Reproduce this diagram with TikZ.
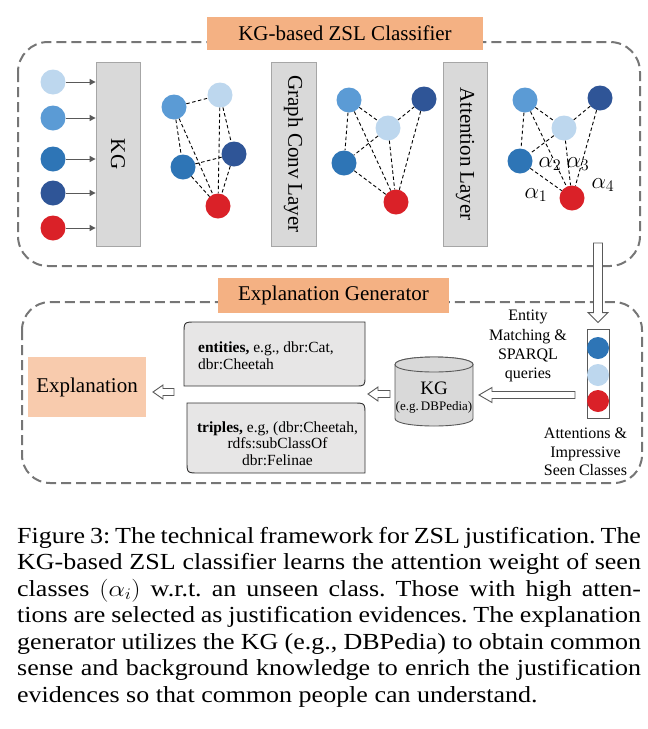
\RequirePackage{fix-cm}
\documentclass[tikz,border=0pt]{standalone}
\usepackage{fontspec}
\setmainfont{Liberation Serif}
\usepackage{graphicx}
\usetikzlibrary{arrows.meta,calc}
\definecolor{cLight}{HTML}{BDD7EE}
\definecolor{cMid}{HTML}{5B9BD5}
\definecolor{cBlue}{HTML}{2E75B6}
\definecolor{cDark}{HTML}{2F5597}
\definecolor{cRed}{HTML}{DA2128}
\definecolor{cOrange}{HTML}{F4B183}
\definecolor{cPeach}{HTML}{F8CBAD}
\definecolor{cGray}{HTML}{D9D9D9}
\definecolor{cGrayLine}{HTML}{A6A6A6}
\definecolor{cDash}{HTML}{767676}
\definecolor{cBox}{HTML}{E7E6E6}
\definecolor{cArrow}{HTML}{595959}
\newcommand{\fs}[2]{\fontsize{#1}{#2}\selectfont}
\newcommand{\capline}[1]{\scalebox{1.13}[1]{\makebox[552pt][s]{#1}}}
\frenchspacing
\begin{document}
\begin{tikzpicture}[x=1pt,y=-1pt,
 dot/.style={circle,inner sep=0pt,minimum size=25pt},
 sdot/.style={circle,inner sep=0pt,minimum size=22pt},
 layerbox/.style={draw=cGrayLine,line width=0.8pt,fill=cGray,minimum height=184pt,inner sep=0pt},
 layertext/.style={rotate=-90,font=\fs{21}{24},inner sep=0pt},
 inarrow/.style={draw=cArrow,line width=1pt,-{Triangle[length=6pt,width=6pt]}},
 gedge/.style={draw=black,line width=0.9pt,dash pattern=on 3.5pt off 2.5pt},
 dashbox/.style={draw=cDash,line width=2pt,dash pattern=on 10pt off 5pt},
 titlebox/.style={fill=cOrange,inner sep=0pt,font=\fs{21}{24}},
 blockarrow/.style={draw=cArrow,fill=white,line width=0.9pt,line join=miter},
 textbox/.style={draw=black!80,fill=cBox,line width=0.9pt},
 cyl/.style={draw=cArrow,fill=cGray,line width=0.9pt},
 alab/.style={font=\fs{23}{23},inner sep=0pt},
 plain/.style={inner sep=0pt,align=center},
 captionline/.style={anchor=base west,inner sep=0pt,font=\fs{23}{26.5}}
]
\useasboundingbox (0,0) rectangle (648,729);

% ---------- dashed frames ----------
\draw[dashbox,rounded corners=30pt] (18,42) rectangle (640,266);
\draw[dashbox,rounded corners=28pt] (22,302) rectangle (642,483);

% ---------- titles ----------
\node[titlebox,minimum width=276pt,minimum height=33pt] (t1) at (345,33.5) {KG-based ZSL Classifier};
\node[titlebox,minimum width=231pt,minimum height=35pt] (t2) at (333.5,295.5) {Explanation Generator};

% ---------- input circles and KG layer ----------
\node[layerbox,minimum width=44pt] (kgl) at (118,154) {};
\node[layertext] (kglt) at (kgl.center) {KG};
\node[dot,fill=cLight] (l1) at (53,82) {};
\node[dot,fill=cMid] (l2) at (53,118) {};
\node[dot,fill=cBlue] (l3) at (53,159) {};
\node[dot,fill=cDark] (l4) at (53,193) {};
\node[dot,fill=cRed] (l5) at (53,228) {};
\foreach \n in {l1,l2,l3,l4,l5}{
  \draw[inarrow] (\n) -- (\n -| kgl.west);
}

% ---------- graph 1 ----------
\node[dot,fill=cMid] (a1) at (174,107) {};
\node[dot,fill=cLight] (b1) at (220,95) {};
\node[dot,fill=cBlue] (c1) at (183,167) {};
\node[dot,fill=cDark] (d1) at (234,154) {};
\node[dot,fill=cRed] (r1) at (218,206) {};
\draw[gedge] (a1)--(b1) (a1)--(c1) (a1)--(r1) (b1)--(r1) (b1)--(d1) (c1)--(d1) (c1)--(r1) (d1)--(r1);

% ---------- graph conv layer ----------
\node[layerbox,minimum width=45pt] (gcl) at (293.5,154) {};
\node[layertext] (gclt) at (gcl.center) {Graph Conv Layer};

% ---------- graph 2 ----------
\node[dot,fill=cMid] (a2) at (349,100) {};
\node[dot,fill=cDark] (d2) at (424,99) {};
\node[dot,fill=cLight] (b2) at (388,128) {};
\node[dot,fill=cBlue] (c2) at (344,163) {};
\node[dot,fill=cRed] (r2) at (396,202) {};
\draw[gedge] (a2)--(b2) (a2)--(c2) (a2)--(r2) (b2)--(d2) (b2)--(c2) (b2)--(r2) (d2)--(r2) (c2)--(r2);

% ---------- attention layer ----------
\node[layerbox,minimum width=44pt] (atl) at (465,154) {};
\node[layertext] (atlt) at (atl.center) {Attention Layer};

% ---------- graph 3 ----------
\node[dot,fill=cMid] (a3) at (525,100) {};
\node[dot,fill=cDark] (d3) at (600,98) {};
\node[dot,fill=cLight] (b3) at (564,128) {};
\node[dot,fill=cBlue] (c3) at (520,161) {};
\node[dot,fill=cRed] (r3) at (572,198) {};
\draw[gedge] (a3)--(b3) (a3)--(c3) (a3)--(r3) (b3)--(d3) (b3)--(c3) (b3)--(r3) (d3)--(r3) (c3)--(r3);
\node[alab] (al1) at (536,195) {$\alpha_1$};
\node[alab] (al2) at (550,164) {$\alpha_2$};
\node[alab] (al3) at (578,164) {$\alpha_3$};
\node[alab] (al4) at (603,185) {$\alpha_4$};

% ---------- attention column ----------
\node[draw=cArrow,fill=white,line width=0.8pt,minimum width=22pt,minimum height=89pt,inner sep=0pt] (att) at (598,373.5) {};
\node[sdot,fill=cBlue] (s1) at (598,348) {};
\node[sdot,fill=cLight] (s2) at (598,375) {};
\node[sdot,fill=cRed] (s3) at (598,401) {};
\node[plain,font=\fs{16}{18.5}] (attlab) at (585.5,452) {Attentions \&\\Impressive\\Seen Classes};

% ---------- down block arrow ----------
\coordinate (dtail) at (598,243);
\coordinate (dtip) at ($(att.north)+(0,-6)$);
\draw[blockarrow] let \p1=(dtip), \p2=(dtail) in
  (\x1,\y1) -- (\x1-10pt,\y1+10pt) -- (\x1-4.5pt,\y1+10pt) -- (\x1-4.5pt,\y2)
  -- (\x1+4.5pt,\y2) -- (\x1+4.5pt,\y1+10pt) -- (\x1+10pt,\y1+10pt) -- cycle;

% ---------- KG cylinder ----------
\draw[cyl] (395,364.5) -- (395,418.5) .. controls (395,428.5) and (473,428.5) .. (473,418.5)
  -- (473,364.5) .. controls (473,354.5) and (395,354.5) .. (395,364.5) -- cycle;
\draw[cyl] (395,364.5) .. controls (395,374.5) and (473,374.5) .. (473,364.5)
  .. controls (473,354.5) and (395,354.5) .. (395,364.5) -- cycle;
\node[plain,font=\fs{19}{20}] (kgdb) at (434,388) {KG};
\node[plain,font=\fs{13}{14}] (kgsub) at (434,407.5) {(e.g.\,DBPedia)};

% ---------- query text ----------
\node[plain,font=\fs{16}{19.2}] (query) at (528,346) {Entity\\Matching \&\\SPARQL\\queries};

% ---------- entities / triples boxes ----------
\draw[textbox] (184,386) -- (184,334) .. controls (184,322) .. (196,322) -- (365,322)
  -- (365,376) .. controls (365,386) .. (355,386) -- cycle;
\node[inner sep=0pt,align=left,anchor=west,font=\fs{15.5}{17}] (ent) at (198,355.5)
  {\textbf{entities,} e.g., dbr:Cat,\\dbr:Cheetah};
\draw[textbox] (187,403) -- (353,403) .. controls (365,403) .. (365,415) -- (365,473)
  -- (199,473) .. controls (187,473) .. (187,461) -- cycle;
\node[plain,font=\fs{15.5}{16.7}] (tri) at (277.5,443.5)
  {\textbf{triples,} e.g, (dbr:Cheetah,\\rdfs:subClassOf\\dbr:Felinae};

% ---------- explanation ----------
\node[fill=cPeach,minimum width=118pt,minimum height=60pt,inner sep=0pt,font=\fs{21}{24}] (expl) at (87,387) {Explanation};

% ---------- horizontal block arrows ----------
\coordinate (a1tip) at (479,395);
\coordinate (a1tail) at (575,395);
\coordinate (a2tip) at (368,394);
\coordinate (a2tail) at (390,394);
\coordinate (a3tip) at (153,392);
\coordinate (a3tail) at (174,392);
\draw[blockarrow] let \p1=(a1tip), \p2=(a1tail) in
  (\x1,\y1) -- (\x1+13pt,\y1+7.5pt) -- (\x1+13pt,\y1+3.5pt) -- (\x2,\y1+3.5pt)
  -- (\x2,\y1-3.5pt) -- (\x1+13pt,\y1-3.5pt) -- (\x1+13pt,\y1-7.5pt) -- cycle;
\draw[blockarrow] let \p1=(a2tip), \p2=(a2tail) in
  (\x1,\y1) -- (\x1+10pt,\y1+7pt) -- (\x1+10pt,\y1+3.5pt) -- (\x2,\y1+3.5pt)
  -- (\x2,\y1-3.5pt) -- (\x1+10pt,\y1-3.5pt) -- (\x1+10pt,\y1-7pt) -- cycle;
\draw[blockarrow] let \p1=(a3tip), \p2=(a3tail) in
  (\x1,\y1) -- (\x1+10pt,\y1+7pt) -- (\x1+10pt,\y1+3.5pt) -- (\x2,\y1+3.5pt)
  -- (\x2,\y1-3.5pt) -- (\x1+10pt,\y1-3.5pt) -- (\x1+10pt,\y1-7pt) -- cycle;

% ---------- caption ----------
\node[captionline] (cap1) at (17,543) {\capline{Figure 3: The technical framework for ZSL justification. The}};
\node[captionline] (cap2) at (17,569.5) {\capline{KG-based ZSL classifier learns the attention weight of seen}};
\node[captionline] (cap3) at (17,596) {\capline{classes $(\alpha_i)$ w.r.t. an unseen class. Those with high atten-}};
\node[captionline] (cap4) at (17,622.5) {\capline{tions are selected as justification evidences. The explanation}};
\node[captionline] (cap5) at (17,649) {\capline{generator utilizes the KG (e.g., DBPedia) to obtain common}};
\node[captionline] (cap6) at (17,675.5) {\capline{sense and background knowledge to enrich the justification}};
\node[captionline] (cap7) at (17,702) {\scalebox{1.13}[1]{evidences so that common people can understand.}};
\end{tikzpicture}
\end{document}
